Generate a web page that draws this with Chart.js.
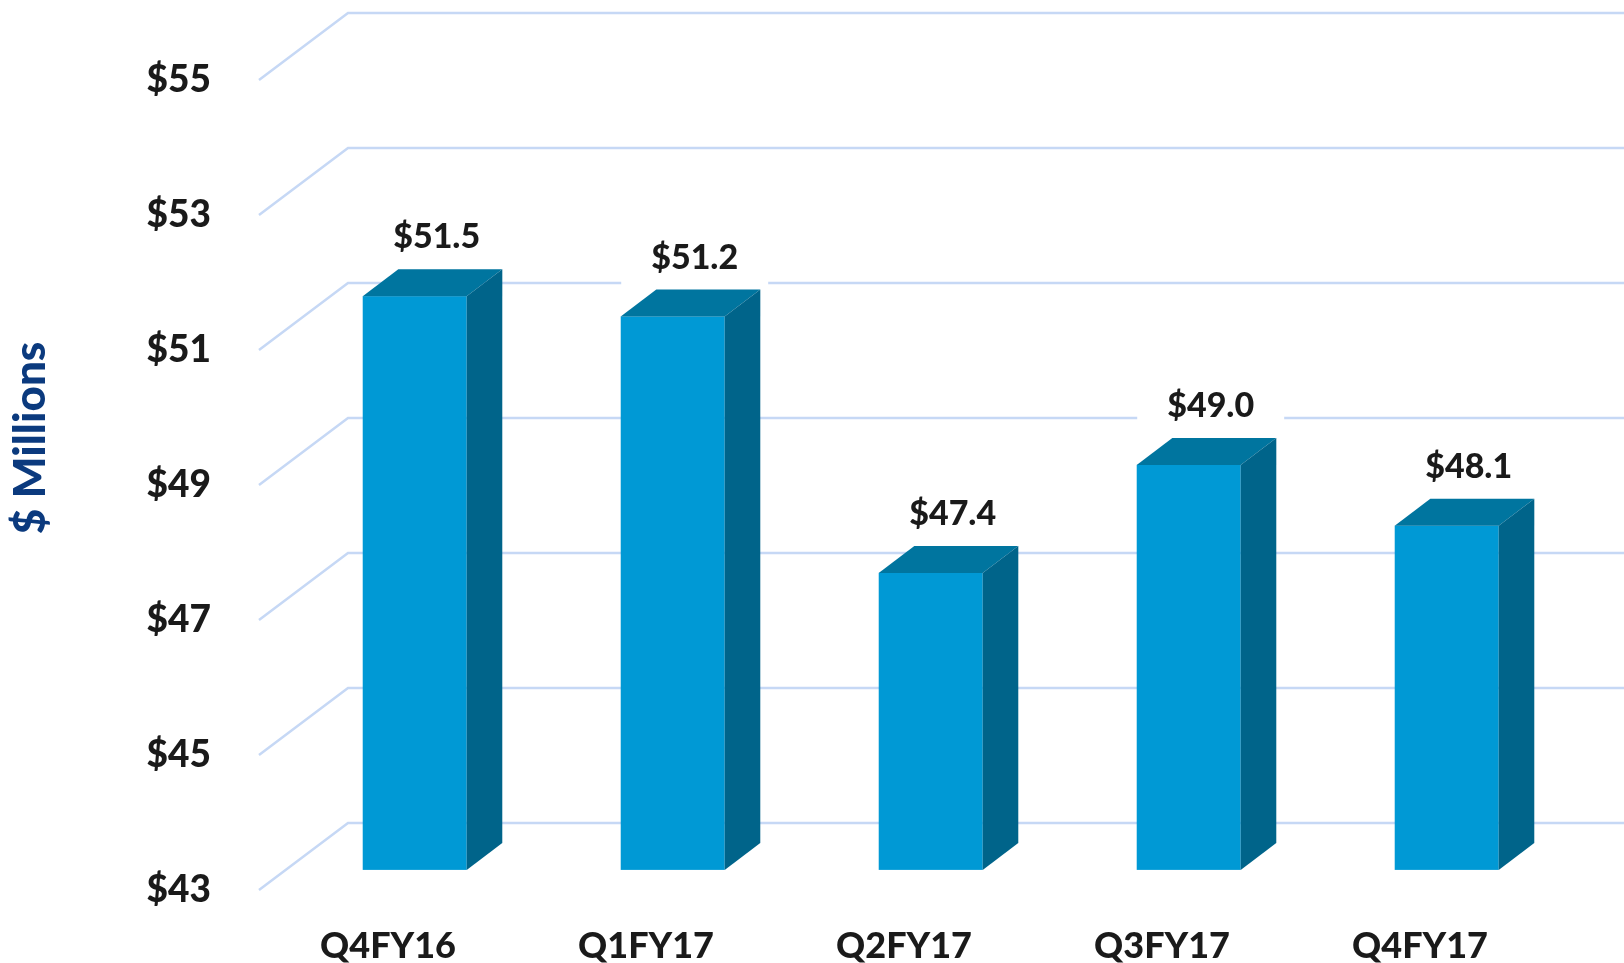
<!DOCTYPE html>
<html>
<head>
<meta charset="utf-8">
<script src="https://cdn.jsdelivr.net/npm/chart.js@4.4.1/dist/chart.umd.min.js"></script>
<style>
  html,body{margin:0;padding:0;background:#fff;}
  #wrap{width:1624px;height:963px;position:relative;}
</style>
</head>
<body>
<div id="wrap"><canvas id="c"></canvas></div>
<script>
const quarters=['Q4FY16','Q1FY17','Q2FY17','Q3FY17','Q4FY17'];
const revenue=[51.5,51.2,47.4,49.0,48.1];
const yTicks=[43,45,47,49,51,53,55];

// 3d look
const wallDx=89, wallDy=-67;      // depth of the back wall
const barZ=0.3, barDepth=0.4;     // bar front position / thickness as share of depth
const FRONT='#0099d5', TOP='#00759f', SIDE='#00648a';
const GRID='#c6d8f5';
const FONT='Lato, "Open Sans", sans-serif';

const box3d={
  id:'box3d',
  beforeDatasetsDraw(chart){
    const {ctx,chartArea}=chart, y=chart.scales.y;
    ctx.save();
    ctx.strokeStyle=GRID; ctx.lineWidth=2.5;
    yTicks.forEach(v=>{
      const py=y.getPixelForValue(v);
      ctx.beginPath();
      ctx.moveTo(chartArea.left,py);
      ctx.lineTo(chartArea.left+wallDx,py+wallDy);
      ctx.lineTo(chart.width,py+wallDy);
      ctx.stroke();
    });
    ctx.restore();
  },
  afterDatasetsDraw(chart){
    const {ctx}=chart;
    const meta=chart.getDatasetMeta(0);
    const ox=wallDx*barZ, oy=wallDy*barZ, dx=wallDx*barDepth, dy=wallDy*barDepth;
    ctx.save();
    meta.data.forEach((bar,i)=>{
      const {x,y,base,width}=bar.getProps(['x','y','base','width'],true);
      const l=x-width/2+ox, r=x+width/2+ox, t=y+oy, b=base+oy;
      ctx.fillStyle=FRONT; ctx.fillRect(l,t,r-l,b-t);
      ctx.fillStyle=TOP;
      ctx.beginPath(); ctx.moveTo(l,t); ctx.lineTo(l+dx,t+dy); ctx.lineTo(r+dx,t+dy); ctx.lineTo(r,t); ctx.closePath(); ctx.fill();
      ctx.fillStyle=SIDE;
      ctx.beginPath(); ctx.moveTo(r,t); ctx.lineTo(r+dx,t+dy); ctx.lineTo(r+dx,b+dy); ctx.lineTo(r,b); ctx.closePath(); ctx.fill();
      // value label on white box
      const txt='$'+revenue[i].toFixed(1);
      ctx.font='900 34px '+FONT;
      const tw=ctx.measureText(txt).width;
      const cx=x+ox+22, cy=t+dy-32;
      ctx.fillStyle='#fff';
      ctx.fillRect(cx-tw/2-30,cy-28,tw+60,56);
      ctx.fillStyle='#1a1a1a'; ctx.textAlign='center'; ctx.textBaseline='middle';
      ctx.fillText(txt,cx,cy);
    });
    // axis title
    ctx.translate(31,438); ctx.rotate(-Math.PI/2);
    ctx.font='900 44px '+FONT; ctx.fillStyle='#0b3a7e';
    ctx.textAlign='center'; ctx.textBaseline='middle';
    ctx.fillText('$ Millions',0,0);
    ctx.restore();
  }
};

new Chart(document.getElementById('c'),{
  type:'bar',
  data:{labels:quarters,datasets:[{data:revenue,base:yTicks[0],backgroundColor:'rgba(0,0,0,0)',categoryPercentage:1,barPercentage:0.403}]},
  options:{
    responsive:true,maintainAspectRatio:false,animation:false,
    layout:{padding:{top:80,right:75,left:0,bottom:0}},
    plugins:{legend:{display:false},tooltip:{enabled:false}},
    scales:{
      x:{grid:{display:false},border:{display:false},
        ticks:{color:'#1a1a1a',font:{family:FONT,size:36,weight:'900'},padding:27,maxRotation:0,autoSkip:false},
        afterFit:s=>{s.height=73;}},
      y:{min:43,max:55,grid:{display:false},border:{display:false},
        ticks:{stepSize:2,color:'#1a1a1a',font:{family:FONT,size:37,weight:'900'},padding:40,callback:v=>'$'+v},
        afterFit:s=>{s.width=259;}}
    }
  },
  plugins:[box3d]
});
</script>
</body>
</html>
